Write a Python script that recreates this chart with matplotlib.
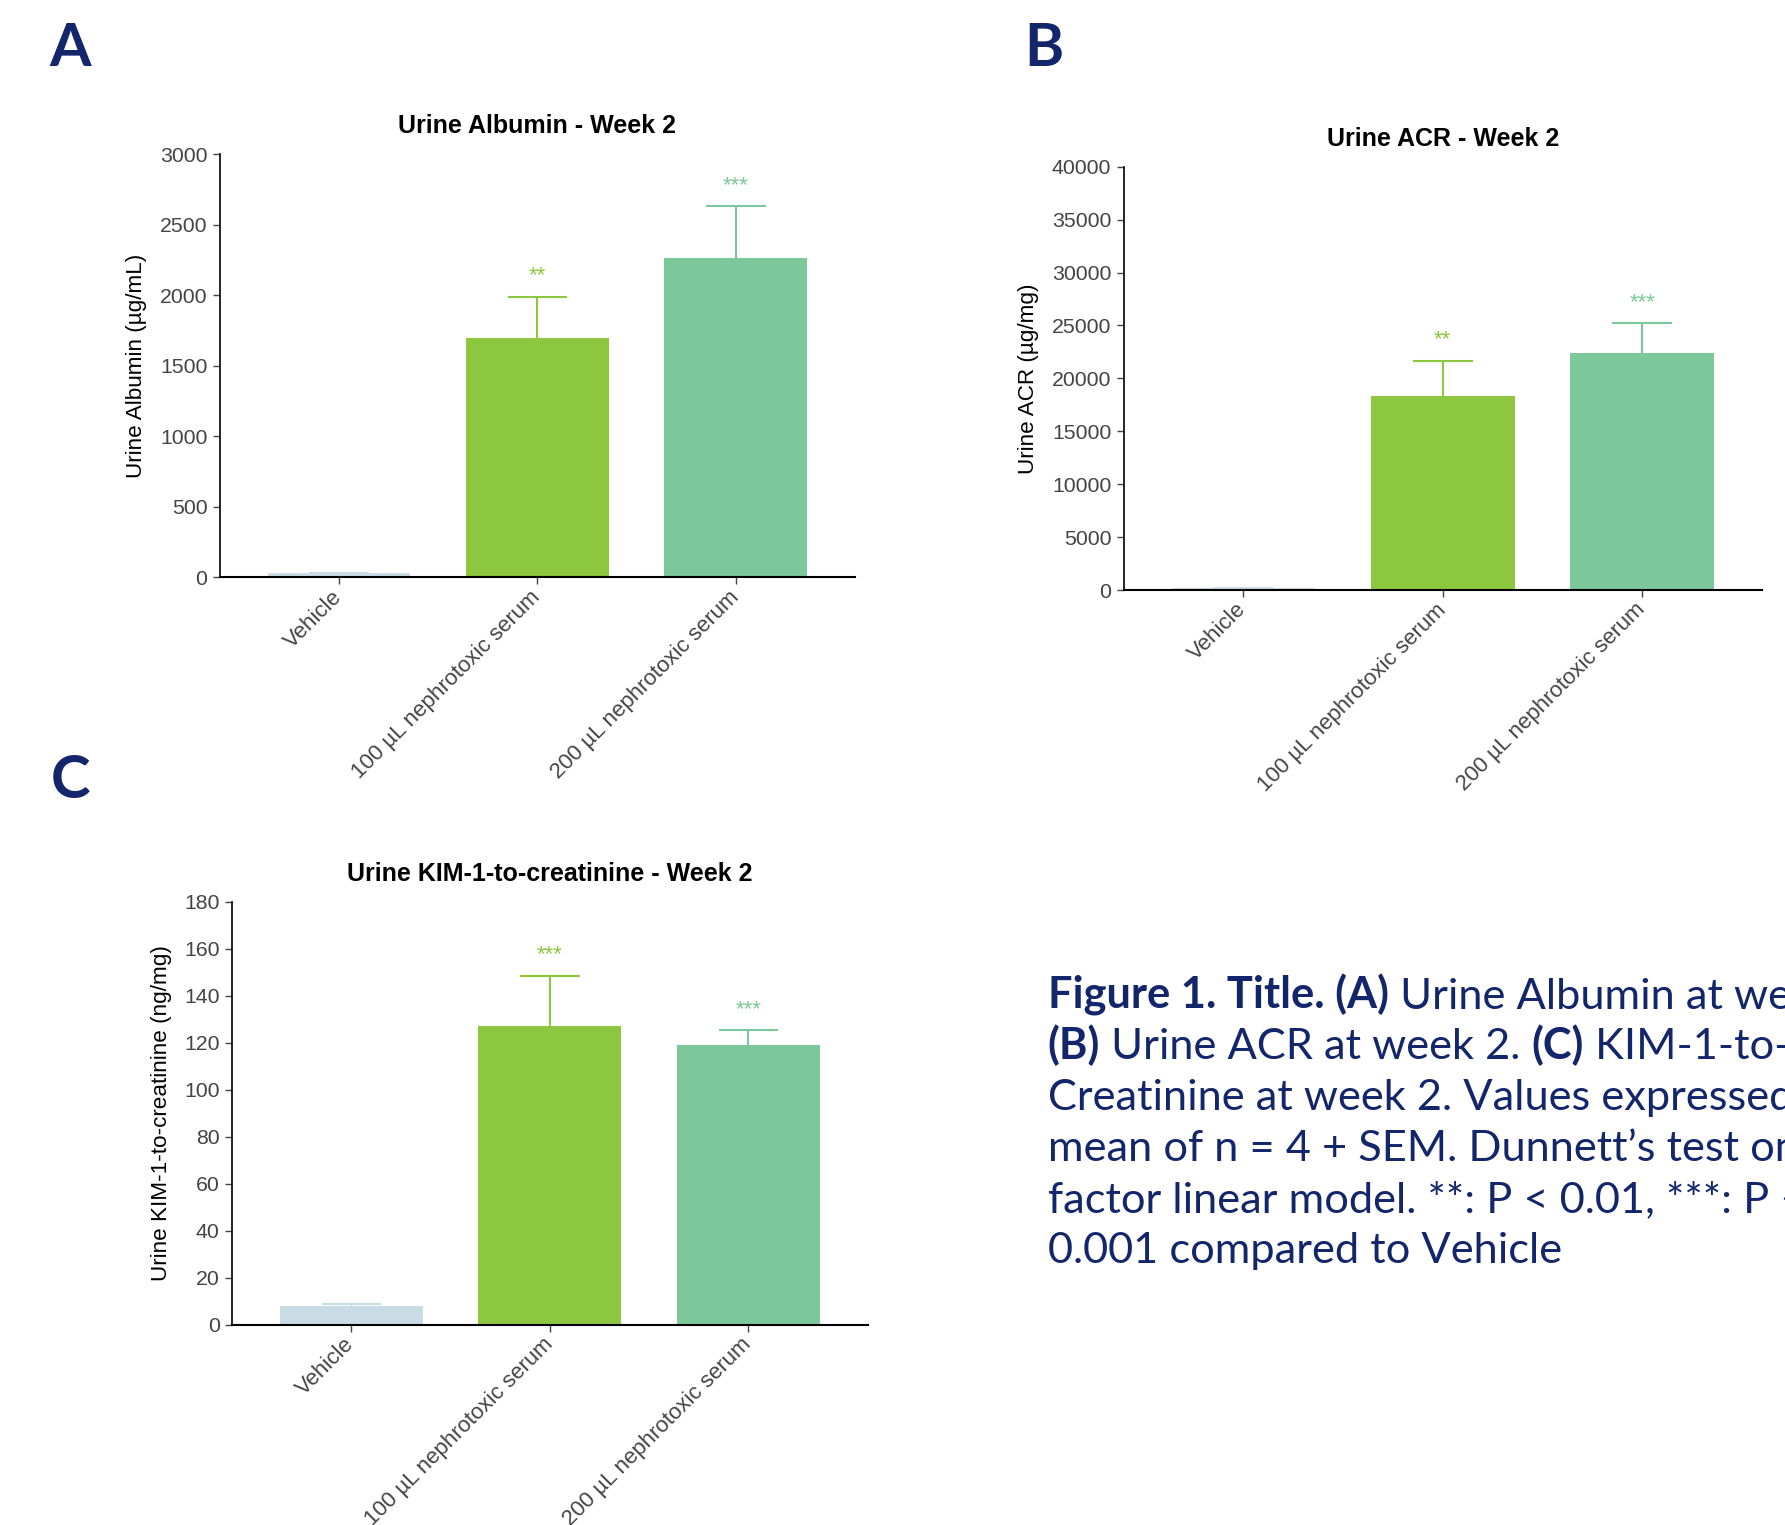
import matplotlib
matplotlib.use('Agg')
import matplotlib.pyplot as plt
from matplotlib.text import Annotation

# data (mean + SEM, n = 4)
groups = ["Vehicle", "100 µL nephrotoxic serum", "200 µL nephrotoxic serum"]
bar_colors = ["#c9dbe5", "#8dc63f", "#7dc89a"]

albumin_mean = [28, 1695, 2260]
albumin_sem = [4, 293, 368]
albumin_stars = ["", "**", "***"]

acr_mean = [150, 18330, 22370]
acr_sem = [20, 3340, 2830]
acr_stars = ["", "**", "***"]

kim_mean = [8.0, 127.1, 119.0]
kim_sem = [0.8, 21.4, 6.3]
kim_stars = ["", "***", "***"]

navy = "#13256b"
plt.rcParams['font.family'] = ['Liberation Sans', 'DejaVu Sans']

fig = plt.figure(figsize=(17.85, 15.25), dpi=100)


def bar_panel(rect, means, sems, stars, title, ylabel, ymax, ystep, labelpad):
    ax = fig.add_axes(rect)
    x = list(range(len(groups)))
    ax.bar(x, means, width=0.72, color=bar_colors, zorder=2)
    for xi, m, s, c, st in zip(x, means, sems, bar_colors, stars):
        top = m + s
        ax.vlines(xi, m, top, color=c, lw=1.5, zorder=1)
        ax.hlines(top, xi - 0.15, xi + 0.15, color=c, lw=1.5, zorder=1)
        if st:
            ax.annotate(st, (xi, top), xytext=(0, 15), textcoords='offset points',
                        ha='center', va='center', color=c, fontsize=16)
    ax.set_xlim(-0.6, 2.6)
    ax.set_ylim(0, ymax)
    ax.set_yticks([i * ystep for i in range(int(ymax / ystep) + 1)])
    ax.set_xticks(x)
    ax.set_xticklabels(groups, rotation=45, ha='right', va='center',
                       rotation_mode='anchor', color='#444444', fontsize=16)
    ax.tick_params(axis='x', length=5, width=1, color='#444444', pad=7)
    ax.tick_params(axis='y', length=5, width=1, color='#444444', labelcolor='#444444',
                   labelsize=15.3, pad=4)
    for side in ['top', 'right']:
        ax.spines[side].set_visible(False)
    ax.spines['left'].set_linewidth(1.2)
    ax.spines['bottom'].set_linewidth(1.5)
    ax.set_title(title, fontsize=18, fontweight='bold', pad=15)
    ax.set_ylabel(ylabel, fontsize=16.2, labelpad=labelpad)
    return ax


bar_panel([0.1232, 0.6216, 0.3557, 0.2774], albumin_mean, albumin_sem, albumin_stars,
          "Urine Albumin - Week 2", "Urine Albumin (µg/mL)", 3000, 500, 9)
bar_panel([0.6295, 0.6131, 0.3575, 0.2776], acr_mean, acr_sem, acr_stars,
          "Urine ACR - Week 2", "Urine ACR (µg/mg)", 40000, 5000, 9)
bar_panel([0.1301, 0.1313, 0.3559, 0.2774], kim_mean, kim_sem, kim_stars,
          "Urine KIM-1-to-creatinine - Week 2", "Urine KIM-1-to-creatinine (ng/mg)", 180, 20, 9)

# panel letters
for letter, (lx, ly) in zip("ABC", [(0.0395, 0.968), (0.585, 0.968), (0.0395, 0.488)]):
    fig.text(lx, ly, letter, fontsize=43, fontweight='bold', color=navy,
             family=['Lato', 'DejaVu Sans'], ha='center', va='center')

# caption, bold and regular runs placed one after another
caption_lines = [
    [("Figure 1. Title. (A)", 'bold'), (" Urine Albumin at week 2.", 'normal')],
    [("(B)", 'bold'), (" Urine ACR at week 2. ", 'normal'), ("(C)", 'bold'), (" KIM-1-to-", 'normal')],
    [("Creatinine at week 2. Values expressed as", 'normal')],
    [("mean of n = 4 + SEM. Dunnett\u2019s test on one", 'normal')],
    [("factor linear model. **: P < 0.01, ***: P <", 'normal')],
    [("0.001 compared to Vehicle", 'normal')],
]
cap_x = 0.587
cap_y = 0.334
cap_step = 0.0333
for i, segs in enumerate(caption_lines):
    prev = None
    for s, w in segs:
        kw = dict(fontsize=31.2, fontweight=w, color=navy, family=['Lato', 'DejaVu Sans'],
                  va='bottom', ha='left')
        if prev is None:
            prev = fig.text(cap_x, cap_y - i * cap_step, s, **kw)
        else:
            a = Annotation(s, xy=(1, 0), xycoords=prev, **kw)
            fig.add_artist(a)
            prev = a

fig.savefig('out.png', dpi=100)
